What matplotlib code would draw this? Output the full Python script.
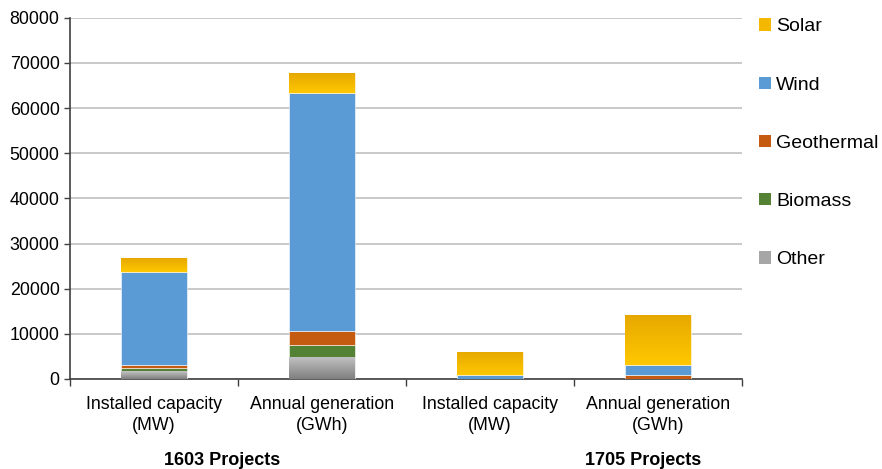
import matplotlib.pyplot as plt
from matplotlib.colors import LinearSegmentedColormap
from matplotlib.patches import Patch
import numpy as np

plt.rcParams['font.family'] = ['Liberation Sans', 'DejaVu Sans']

categories = ["Installed capacity\n(MW)", "Annual generation\n(GWh)",
              "Installed capacity\n(MW)", "Annual generation\n(GWh)"]
groups = ["1603 Projects", "1705 Projects"]
group_pos = [0.405, 2.91]

other = [1700, 4900, 0, 0]
biomass = [700, 2600, 0, 0]
geothermal = [600, 3100, 0, 800]
wind = [20700, 52800, 800, 2200]
solar = [3100, 4400, 5100, 11200]

series = [("Other", other, "#a6a6a6"),
          ("Biomass", biomass, "#548235"),
          ("Geothermal", geothermal, "#c55a11"),
          ("Wind", wind, "#5b9bd5"),
          ("Solar", solar, "#f5b800")]

gradients = {
    "Solar": LinearSegmentedColormap.from_list("solar", ["#ffc800", "#e6a800"]),
    "Other": LinearSegmentedColormap.from_list("other", ["#7f7f7f", "#c4c4c4"]),
}

fig = plt.figure(figsize=(8.82, 4.69), dpi=100)
ax = fig.add_axes([0.0794, 0.192, 0.762, 0.770])

x = np.arange(len(categories))
bottom = np.zeros(len(categories))
width = 0.39
for name, vals, col in series:
    vals = np.array(vals, dtype=float)
    bars = ax.bar(x, vals, width, bottom=bottom, color=col, zorder=3,
                  edgecolor="white", linewidth=0.4)
    if name in gradients:
        for b, v in zip(bars, vals):
            if v <= 0:
                continue
            x0, y0 = b.get_x(), b.get_y()
            grad = np.linspace(0, 1, 100).reshape(-1, 1)
            im = ax.imshow(grad, cmap=gradients[name], aspect="auto",
                           extent=[x0, x0 + b.get_width(), y0, y0 + v],
                           origin="lower", zorder=3.5)
            im.set_clip_path(b)
    bottom += vals

ax.set_xlim(-0.5, 3.5)
ax.set_ylim(0, 80000)
ax.set_yticks(np.arange(0, 80001, 10000))
ax.yaxis.grid(True, color="#c0c0c0", linewidth=1.2, zorder=0)
ax.set_axisbelow(True)

ax.set_xticks(x)
ax.set_xticklabels(categories, fontsize=12.8, linespacing=1.3)
ax.tick_params(axis="x", length=0, pad=12)
ax.set_xticks(np.arange(-0.5, 4.0, 1.0), minor=True)
ax.tick_params(axis="x", which="minor", length=5, width=1, color="#404040")
ax.tick_params(axis="y", labelsize=12.8, length=4, width=1, color="#404040")

for s in ["top", "right"]:
    ax.spines[s].set_visible(False)
for s in ["left", "bottom"]:
    ax.spines[s].set_color("#404040")
    ax.spines[s].set_linewidth(1.2)

for g, p in zip(groups, group_pos):
    ax.text(p, -0.225, g, transform=ax.get_xaxis_transform(),
            ha="center", va="center", fontsize=13, fontweight="bold")

handles = [Patch(facecolor=c, label=n) for n, v, c in series][::-1]
fig.legend(handles=handles, loc="upper left", bbox_to_anchor=(0.845, 0.99),
           frameon=False, fontsize=14, handlelength=0.6, handleheight=0.6,
           handletextpad=0.3, labelspacing=2.12, borderaxespad=0.3)

fig.savefig("out.png", dpi=100)
